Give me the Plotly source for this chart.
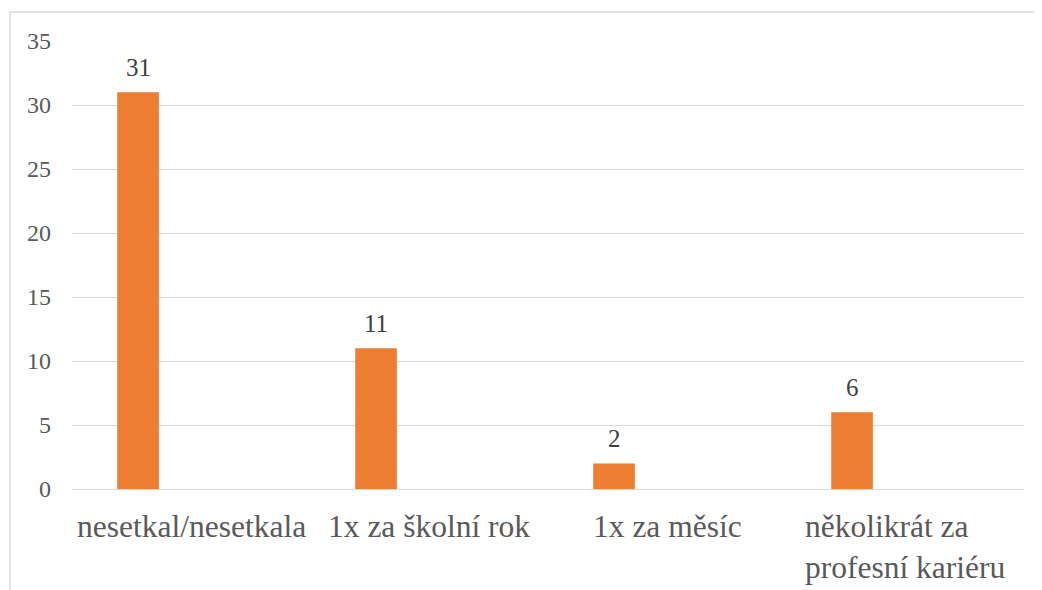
import plotly.graph_objects as go

categories = ["nesetkal/nesetkala", "1x za školní rok", "1x za měsíc", "několikrát za<br>profesní kariéru"]
values = [31, 11, 2, 6]
y_ticks = [0, 5, 10, 15, 20, 25, 30, 35]

BAR_COLOR = "#ED7D31"
GRID = "#D9D9D9"
TXT = "#595959"
FONT = "Liberation Serif"

OX, OY = 8, 8
W, H = 1042 - OX, 590 - OY
ML, MR, MT, MB = 72 - OX, 18, 41 - OY, 101
PW = W - ML - MR
PH = H - MT - MB

BAR_OFFSET = -0.31
BAR_WIDTH = 0.175

fig = go.Figure()
fig.add_trace(go.Bar(
    x=categories, y=values,
    marker=dict(color=BAR_COLOR, line=dict(width=0)),
    offset=BAR_OFFSET, width=BAR_WIDTH,
    hoverinfo="x+y",
))

cat_px = PW / len(categories)
xshift = (BAR_OFFSET + BAR_WIDTH / 2) * cat_px

annotations = []
for c, v in zip(categories, values):
    annotations.append(dict(
        x=c, y=v, xref="x", yref="y", text=str(v), showarrow=False,
        xanchor="center", yanchor="bottom", xshift=xshift, yshift=9,
        font=dict(family=FONT, size=25, color="#404040"),
    ))
    annotations.append(dict(
        x=c, y=-0.04, xref="x", yref="paper", text=c, showarrow=False,
        xanchor="center", yanchor="top", align="left",
        font=dict(family=FONT, size=31.5, color=TXT),
    ))

def px_to_paper_x(px):
    return (px - OX - ML) / PW

def py_to_paper_y(py):
    return (H - MB - (py - OY)) / PH

shapes = [
    dict(type="line", xref="paper", yref="paper",
         x0=px_to_paper_x(10), x1=px_to_paper_x(10),
         y0=py_to_paper_y(12), y1=py_to_paper_y(600),
         line=dict(color=GRID, width=1.5)),
    dict(type="line", xref="paper", yref="paper",
         x0=px_to_paper_x(10), x1=px_to_paper_x(1050),
         y0=py_to_paper_y(12), y1=py_to_paper_y(12),
         line=dict(color=GRID, width=1.5)),
]

fig.update_layout(
    width=W, height=H,
    margin=dict(l=ML, r=MR, t=MT, b=MB, pad=0),
    paper_bgcolor="white", plot_bgcolor="white",
    showlegend=False,
    annotations=annotations,
    shapes=shapes,
    font=dict(family=FONT, color=TXT),
    xaxis=dict(type="category", range=[-0.5, len(categories) - 0.5],
               showticklabels=False, showgrid=False, zeroline=False,
               showline=False, ticks=""),
    yaxis=dict(range=[0, 35], tickvals=y_ticks, ticktext=[str(t) for t in y_ticks],
               showgrid=True, gridcolor=GRID, gridwidth=1.3,
               zeroline=True, zerolinecolor=GRID, zerolinewidth=1.3,
               showline=False, ticks="", ticklabelstandoff=20,
               tickfont=dict(family=FONT, size=24, color=TXT)),
)

fig.write_html("out.html")
